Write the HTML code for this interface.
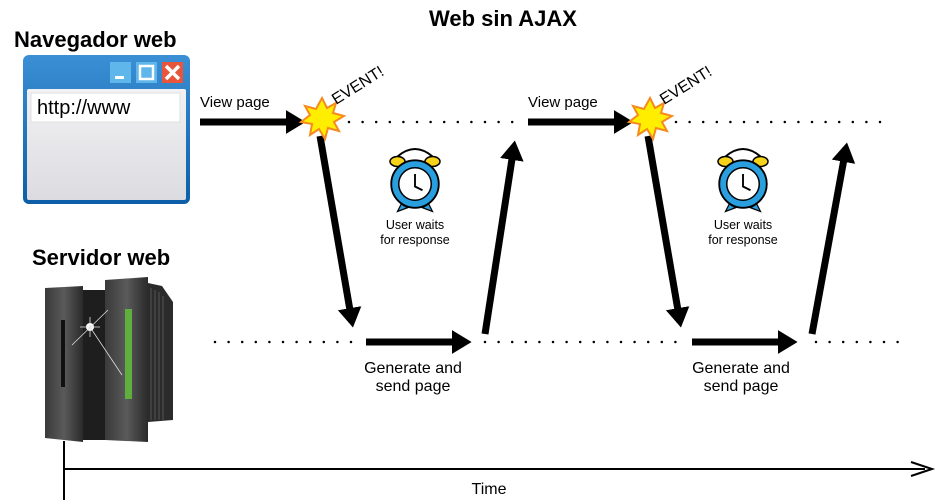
<!DOCTYPE html>
<html><head><meta charset="utf-8"><style>
body{margin:0;background:#fff;}
svg{display:block;font-family:"Liberation Sans",sans-serif;}
</style></head><body>
<svg width="943" height="504" viewBox="0 0 943 504" xmlns="http://www.w3.org/2000/svg">
<defs>
<marker id="ah" markerWidth="4" markerHeight="4" refX="2" refY="2" orient="auto" markerUnits="strokeWidth"><path d="M0,0.3 L2.8,2 L0,3.7 Z" fill="#000"/></marker>
<linearGradient id="tb" x1="0" y1="0" x2="0" y2="1"><stop offset="0" stop-color="#3b8fd4"/><stop offset="1" stop-color="#0d5ea8"/></linearGradient>
<linearGradient id="cont" x1="0" y1="0" x2="0" y2="1"><stop offset="0" stop-color="#f2f2f4"/><stop offset="1" stop-color="#dcdce0"/></linearGradient>
<linearGradient id="srv" x1="0" y1="0" x2="1" y2="0"><stop offset="0" stop-color="#3a3a3a"/><stop offset="0.5" stop-color="#5a5a5a"/><stop offset="1" stop-color="#2a2a2a"/></linearGradient>
<g id="star"><polygon points="0,-20 5,-10 14,-15 11,-5 22,-2 12,4 17,13 6,10 3,21 -3,11 -12,17 -10,6 -21,4 -12,-3 -17,-12 -6,-9" fill="#ffee00" stroke="#f58a1f" stroke-width="2"/></g>
<g id="clock" transform="scale(1.25)">
<path d="M-14,-22 Q0,-34 14,-22" fill="none" stroke="#000" stroke-width="1.5"/>
<ellipse cx="-14" cy="-18" rx="6" ry="4" fill="#f6d21a" stroke="#000" stroke-width="1.2"/>
<ellipse cx="14" cy="-18" rx="6" ry="4" fill="#f6d21a" stroke="#000" stroke-width="1.2"/>
<path d="M-11,16 L-14,22 L-6,19Z M11,16 L14,22 L6,19Z" fill="#2a9fe0" stroke="#000"/>
<circle r="19" fill="#2a9fe0" stroke="#000" stroke-width="1.5"/>
<circle r="13" fill="#fff" stroke="#000" stroke-width="1.2"/>
<path d="M0,-8 L0,2 L6,5" fill="none" stroke="#000" stroke-width="1.5"/>
</g>
</defs>

<text x="503" y="26" font-size="22" font-weight="bold" text-anchor="middle">Web sin AJAX</text>
<text x="14" y="47" font-size="22" font-weight="bold">Navegador web</text>
<text x="32" y="265" font-size="22" font-weight="bold">Servidor web</text>

<rect x="23" y="55" width="167" height="149" rx="6" fill="url(#tb)"/>
<rect x="27" y="89" width="159" height="111" rx="2" fill="url(#cont)"/>
<rect x="31" y="93" width="149" height="29" fill="#fff" stroke="#e0e0e0"/>
<text x="37" y="114" font-size="20">http://www</text>
<rect x="110" y="62" width="21" height="21" fill="#5eb6ea"/>
<rect x="115" y="76" width="9" height="3" fill="#fff"/>
<rect x="136" y="62" width="21" height="21" fill="#5eb6ea"/>
<rect x="140" y="66" width="13" height="13" fill="none" stroke="#fff" stroke-width="2.5"/>
<rect x="162" y="62" width="21" height="21" fill="#e8553a"/>
<path d="M166,66 L179,79 M179,66 L166,79" stroke="#fff" stroke-width="3.5"/>

<polygon points="45,288 83,286 83,442 45,438" fill="url(#srv)"/>
<rect x="83" y="290" width="22" height="150" fill="#1e1e1e"/>
<polygon points="105,280 148,277 148,442 105,440" fill="url(#srv)"/>
<polygon points="148,283 162,286 173,302 173,420 148,422" fill="#2b2b2b"/>
<path d="M151,288V420M155,290V420M159,292V420M163,296V420" stroke="#555" stroke-width="1"/>
<rect x="61" y="320" width="4" height="67" fill="#111"/>
<rect x="125" y="309" width="7" height="90" fill="#5fae3e"/>
<circle cx="90" cy="327" r="4" fill="#fff"/>
<path d="M72,345 L108,310 M80,327 L100,327 M90,317 L90,337 M90,327 L122,375" stroke="#ddd" stroke-width="0.8"/>

<line x1="64" y1="441" x2="64" y2="500" stroke="#000" stroke-width="2"/>
<line x1="64" y1="469" x2="925" y2="469" stroke="#000" stroke-width="2"/>
<path d="M911,462 L932,469 L911,476" fill="none" stroke="#000" stroke-width="2"/>
<text x="489" y="494" font-size="16" text-anchor="middle">Time</text>

<g stroke="#000" stroke-width="2.5" stroke-linecap="round" stroke-dasharray="0 13.6">
<line x1="349" y1="122" x2="520" y2="122"/>
<line x1="676" y1="122" x2="884" y2="122"/>
<line x1="215" y1="342" x2="352" y2="342"/>
<line x1="485" y1="342" x2="680" y2="342"/>
<line x1="816" y1="342" x2="906" y2="342"/>
</g>

<g stroke="#000" stroke-width="7" fill="none" marker-end="url(#ah)">
<line x1="200" y1="122" x2="300" y2="122"/>
<line x1="528" y1="122" x2="628" y2="122"/>
<line x1="320" y1="136" x2="352" y2="322"/>
<line x1="648" y1="136" x2="680" y2="322"/>
<line x1="366" y1="342" x2="466" y2="342"/>
<line x1="692" y1="342" x2="792" y2="342"/>
<line x1="485" y1="334" x2="514" y2="146"/>
<line x1="812" y1="334" x2="846" y2="148"/>
</g>

<use href="#star" x="322" y="118"/>
<use href="#star" x="650" y="118"/>
<text font-size="16" transform="translate(336,105) rotate(-32)">EVENT!</text>
<text font-size="16" transform="translate(664,105) rotate(-32)">EVENT!</text>

<text x="200" y="107" font-size="15">View page</text>
<text x="528" y="107" font-size="15">View page</text>

<use href="#clock" x="415" y="184"/>
<use href="#clock" x="743" y="184"/>
<g font-size="12.5" text-anchor="middle">
<text x="415" y="229">User waits</text><text x="415" y="244">for response</text>
<text x="743" y="229">User waits</text><text x="743" y="244">for response</text>
</g>
<g font-size="16" text-anchor="middle">
<text x="413" y="373">Generate and</text><text x="413" y="391">send page</text>
<text x="741" y="373">Generate and</text><text x="741" y="391">send page</text>
</g>
</svg>
</body></html>
